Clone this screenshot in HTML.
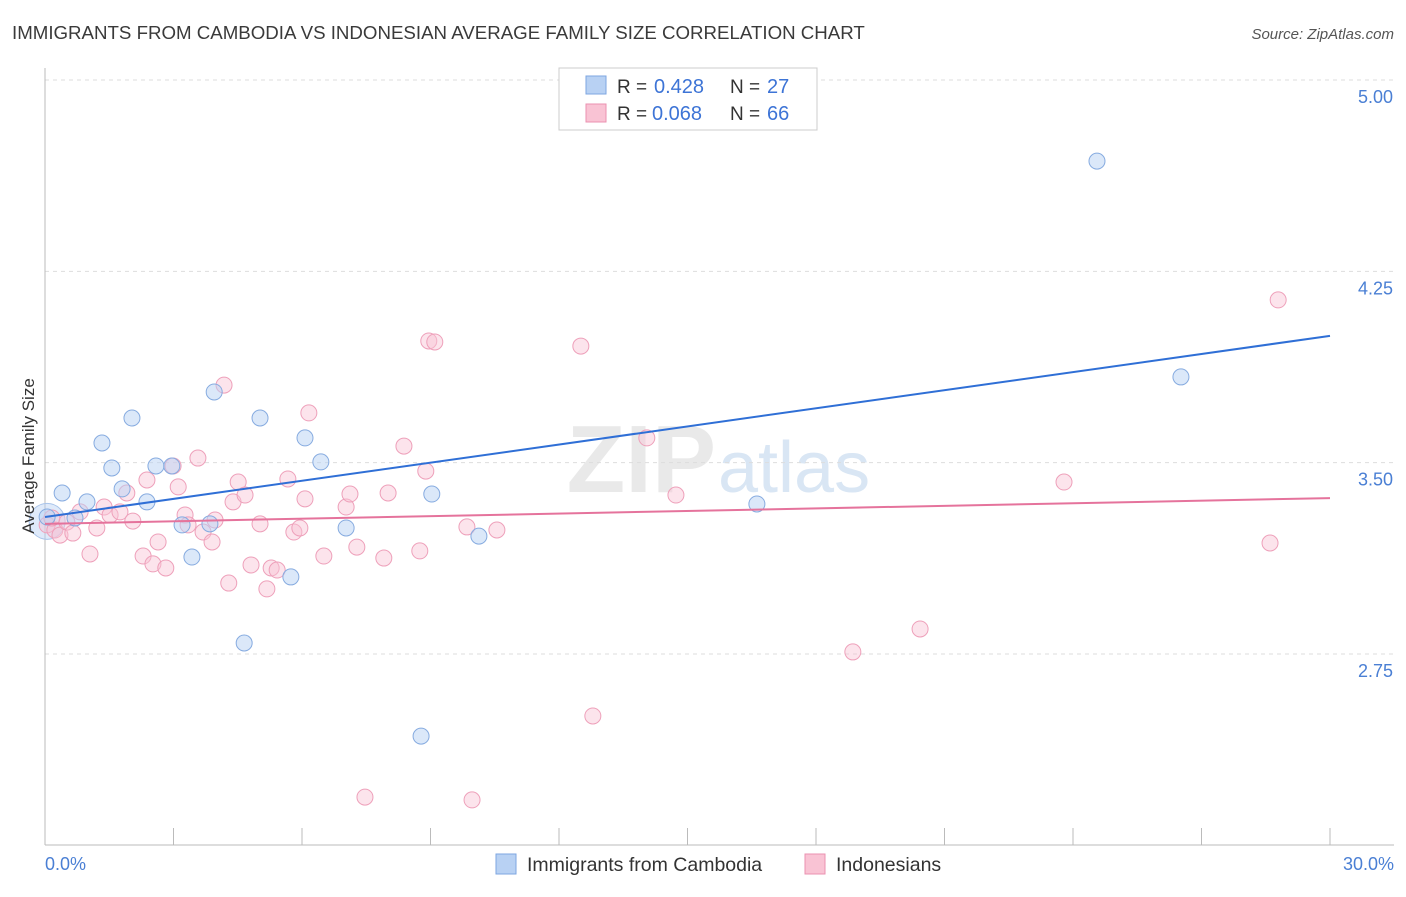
<!DOCTYPE html>
<html><head><meta charset="utf-8">
<style>
body{margin:0;background:#fff;font-family:"Liberation Sans",sans-serif;}
svg text{font-family:"Liberation Sans",sans-serif;}
</style></head>
<body>
<svg id="chart" width="1406" height="892" xmlns="http://www.w3.org/2000/svg">
<text x="12" y="39" font-size="18.7" fill="#3a3a3a">IMMIGRANTS FROM CAMBODIA VS INDONESIAN AVERAGE FAMILY SIZE CORRELATION CHART</text>
<text x="1394" y="39" font-size="15" fill="#555" text-anchor="end" font-style="italic">Source: ZipAtlas.com</text>
<text x="716" y="492" font-size="96" fill="#e9e9e9" text-anchor="end" font-family="Liberation Serif" font-weight="bold">ZIP</text>
<text x="718" y="492" font-size="72" fill="#d9e6f4">atlas</text>
<g id="grid"></g>
<g id="axes"></g>
<g id="points"></g>
<g id="lines"></g>
<text transform="translate(34,456) rotate(-90)" font-size="17" fill="#333" text-anchor="middle">Average Family Size</text>
<text x="45" y="870" font-size="18" fill="#4a7fd4">0.0%</text>
<text x="1394" y="870" font-size="18" fill="#4a7fd4" text-anchor="end">30.0%</text>
<g>
<rect x="559" y="68" width="258" height="62" fill="#fff" stroke="#ccc"/>
<rect x="586" y="76" width="20" height="18" fill="#b8d1f3" stroke="#7ea6e0"/>
<rect x="586" y="104" width="20" height="18" fill="#f9c3d4" stroke="#eb92b0"/>
<text x="617" y="93" font-size="19" fill="#333">R =</text>
<text x="654" y="93" font-size="20" fill="#3d74d6">0.428</text>
<text x="730" y="93" font-size="19" fill="#333">N =</text>
<text x="767" y="93" font-size="20" fill="#3d74d6">27</text>
<text x="617" y="120" font-size="19" fill="#333">R =</text>
<text x="652" y="120" font-size="20" fill="#3d74d6">0.068</text>
<text x="730" y="120" font-size="19" fill="#333">N =</text>
<text x="767" y="120" font-size="20" fill="#3d74d6">66</text>
</g>
<g>
<rect x="496" y="854" width="20" height="20" fill="#b8d1f3" stroke="#7ea6e0"/>
<text x="527" y="871" font-size="19.5" fill="#333">Immigrants from Cambodia</text>
<rect x="805" y="854" width="20" height="20" fill="#f9c3d4" stroke="#eb92b0"/>
<text x="836" y="871" font-size="19.5" fill="#333">Indonesians</text>
</g>
</svg>
<script>
const yTicks=[5.00,4.25,3.50,2.75];
const yTickLabels=["5.00","4.25","3.50","2.75"];
const xTicks=[0,3,6,9,12,15,18,21,24,27,30];
const cambodiaX=[0.05,0.40,0.70,0.98,1.33,1.56,1.80,2.03,2.38,2.59,2.96,3.20,3.43,3.85,3.95,4.65,5.02,5.74,6.07,6.44,7.03,8.78,9.03,10.13,16.62,24.56,26.52];
const cambodiaY=[3.287,3.381,3.283,3.346,3.577,3.479,3.397,3.675,3.346,3.487,3.487,3.256,3.130,3.260,3.777,2.793,3.675,3.052,3.597,3.503,3.244,2.428,3.377,3.212,3.338,4.682,3.836];
const indoX=[0.05,0.23,0.35,0.51,0.65,0.82,1.05,1.21,1.38,1.52,1.75,1.91,2.05,2.29,2.38,2.52,2.64,2.82,2.99,3.11,3.27,3.34,3.57,3.69,3.90,4.18,4.29,4.39,4.51,4.67,4.81,5.02,5.18,5.28,5.42,5.67,5.81,6.07,6.16,6.51,7.03,7.12,7.28,7.91,8.01,8.38,8.75,8.89,8.96,9.10,9.85,9.97,10.55,12.51,12.79,7.47,14.05,14.73,18.86,20.43,23.79,28.60,28.79,0.16,5.95,3.97];
const indoY=[3.256,3.236,3.216,3.267,3.224,3.307,3.142,3.244,3.326,3.295,3.307,3.381,3.271,3.134,3.432,3.103,3.189,3.087,3.487,3.405,3.295,3.256,3.518,3.228,3.189,3.804,3.028,3.346,3.424,3.373,3.099,3.260,3.005,3.087,3.079,3.436,3.228,3.358,3.695,3.134,3.326,3.377,3.169,3.126,3.381,3.565,3.154,3.467,3.977,3.973,3.248,2.178,3.236,3.957,2.507,2.189,3.597,3.373,2.758,2.848,3.424,3.185,4.138,3.283,3.244,3.275];
const cambodiaTrend=[3.287,3.997];
const indoTrend=[3.260,3.361];
const X0=45,X1=1330,Ytop=80,PX_PER=255.1;
const sx=v=>X0+(v/30)*(X1-X0);
const sy=v=>Ytop+(5-v)*PX_PER;
const NS="http://www.w3.org/2000/svg";
function mk(tag,attrs,parent){const e=document.createElementNS(NS,tag);for(const k in attrs)e.setAttribute(k,attrs[k]);parent.appendChild(e);return e;}
const grid=document.getElementById('grid'),axes=document.getElementById('axes'),pts=document.getElementById('points'),lines=document.getElementById('lines');
yTicks.forEach((t,i)=>{
 const l=mk('line',{x1:45,x2:1394,y1:sy(t),y2:sy(t),stroke:'#ddd','stroke-dasharray':'4,4'},grid);
 
 
 const tx=mk('text',{x:1393,y:sy(t)+23,'font-size':18,fill:'#4a7fd4','text-anchor':'end'},grid);
 tx.textContent=yTickLabels[i];
 
 
});
const ax=mk('line',{x1:45,x2:1394,y1:845,y2:845,stroke:'#bbb'},axes);


const ay=mk('line',{x1:45,x2:45,y1:68,y2:845,stroke:'#bbb'},axes);


xTicks.forEach(t=>{
 const l=mk('line',{x1:sx(t),x2:sx(t),y1:828,y2:845,stroke:'#bbb'},axes);
 
 
});
const big=mk('circle',{cx:sx(0.05),cy:sy(3.27),r:18,fill:'rgba(184,209,243,0.45)',stroke:'#a9c4ea'},pts);


indoX.forEach((x,i)=>{
 const c=mk('circle',{cx:sx(x),cy:sy(indoY[i]),r:8,fill:'rgba(249,195,212,0.45)',stroke:'#eea0ba','stroke-width':1},pts);
 
 
});
cambodiaX.forEach((x,i)=>{
 const c=mk('circle',{cx:sx(x),cy:sy(cambodiaY[i]),r:8,fill:'rgba(184,209,243,0.5)',stroke:'#86abe0','stroke-width':1},pts);
 
 
});
const l1=mk('line',{x1:sx(0),x2:sx(30),y1:sy(cambodiaTrend[0]),y2:sy(cambodiaTrend[1]),stroke:'#2f6fd6','stroke-width':2},lines);


const l2=mk('line',{x1:sx(0),x2:sx(30),y1:sy(indoTrend[0]),y2:sy(indoTrend[1]),stroke:'#e5739c','stroke-width':2},lines);


</script>
</body></html>
